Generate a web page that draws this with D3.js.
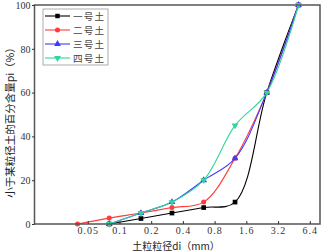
<!DOCTYPE html>
<html><head><meta charset="utf-8">
<script src="https://cdn.jsdelivr.net/npm/d3@7"></script>
<style>body{margin:0;background:#fff}svg{display:block}</style>
</head><body><svg id="c" width="327" height="252"></svg>
<script>
const seriesNames = ["一号土","二号土","三号土","四号土"];
const colors = ["#000000","#ff3b3b","#3b3bff","#2ed69a"];
const symbols = [d3.symbolSquare, d3.symbolCircle, d3.symbolTriangle, d3.symbolTriangle];
const xBlack = [0.08,0.16,0.315,0.63,1.25,2.5,5];
const yBlack = [0,2.5,5,7.5,10,60,100];
const xRed = [0.04,0.08,0.16,0.315,0.63,1.25,2.5,5];
const yRed = [0,2.7,5,7.5,10,30,60,100];
const xBlue = [0.08,0.16,0.315,0.63,1.25,2.5,5];
const yBlue = [0,5,10,20,30,60,100];
const xGreen = [0.08,0.16,0.315,0.63,1.25,2.5,5];
const yGreen = [0,5,10,20,45,60,100];
const xTicks = [0.05,0.1,0.2,0.4,0.8,1.6,3.2,6.4];
const xTickLabels = ["0.05","0.1","0.2","0.4","0.8","1.6","3.2","6.4"];
const yTicks = [0,20,40,60,80,100];
const xTitle = "土粒粒径di（mm）";
const yTitle = "小于某粒径土的百分含量pi（%）";

const xs = [xBlack,xRed,xBlue,xGreen], ys=[yBlack,yRed,yBlue,yGreen];
const svg = d3.select("#c");
const L=34.5,R=320,T=5,B=224;
const x = d3.scaleLog().base(2).domain([Math.pow(2,-6),8]).range([L,R]);
const y = d3.scaleLinear().domain([0,100]).range([B,T]);
const num = "'Liberation Serif','DejaVu Serif',serif";
const cjk = "'Noto Sans CJK SC','Noto Sans CJK JP',sans-serif";

const lineGen = d3.line().x(d=>x(d[0])).y(d=>y(d[1])).curve(d3.curveCatmullRom.alpha(0.5));
xs.forEach((xa,i)=>{
  const pts = xa.map((v,j)=>[v,ys[i][j]]);
  svg.append("path").attr("d",lineGen(pts)).attr("fill","none").attr("stroke",colors[i]).attr("stroke-width",1.1);
});
xs.forEach((xa,i)=>{
  const pts = xa.map((v,j)=>[v,ys[i][j]]);
  svg.selectAll(null).data(pts).enter().append("path")
    .attr("d",d3.symbol().type(symbols[i]).size(i==0?22:20))
    .attr("transform",d=>`translate(${x(d[0])},${y(d[1])})${i==3?" rotate(180)":""}`)
    .attr("fill",colors[i]);
});

// frame
svg.append("rect").attr("x",L).attr("y",T).attr("width",R-L).attr("height",B-T)
  .attr("fill","none").attr("stroke","#555").attr("stroke-width",1.5);

// x axis
const xa = svg.append("g").attr("transform",`translate(0,${B})`)
  .call(d3.axisBottom(x).tickValues(xTicks).tickFormat((d,i)=>xTickLabels[i]).tickSizeInner(-3).tickSizeOuter(0).tickPadding(3));
xa.select(".domain").remove();
xa.selectAll("line").attr("stroke","#333");
xa.selectAll("text").attr("font-family",num).attr("font-size",10).attr("fill","#333").attr("letter-spacing","1px");

const ya = svg.append("g").attr("transform",`translate(${L},0)`)
  .call(d3.axisLeft(y).tickValues(yTicks).tickSizeInner(2.5).tickSizeOuter(0).tickPadding(1.5));
ya.select(".domain").remove();
ya.selectAll("line").attr("stroke","#333");
ya.selectAll("text").attr("font-family",num).attr("font-size",10).attr("fill","#333");

svg.append("text").attr("x",176).attr("y",249.5).attr("text-anchor","middle")
  .attr("font-family",cjk).attr("font-size",10).attr("fill","#222").text(xTitle);
svg.append("text").attr("transform","translate(13.5,120) rotate(-90)").attr("text-anchor","middle")
  .attr("font-family",cjk).attr("font-size",10.5).attr("fill","#222").text(yTitle);

// legend
const lg = svg.append("g");
lg.append("rect").attr("x",43).attr("y",9).attr("width",65).attr("height",56)
  .attr("fill","#fff").attr("stroke","#999").attr("stroke-width",0.8);
seriesNames.forEach((n,i)=>{
  const yy = 16+i*14;
  lg.append("line").attr("x1",45).attr("x2",70).attr("y1",yy).attr("y2",yy).attr("stroke",colors[i]).attr("stroke-width",1.1);
  lg.append("path").attr("d",d3.symbol().type(symbols[i]).size(20))
    .attr("transform",`translate(57.5,${yy})${i==3?" rotate(180)":""}`).attr("fill",colors[i]);
  lg.append("text").attr("x",73).attr("y",yy+3.6).attr("font-family",cjk).attr("font-size",9.6)
    .attr("letter-spacing","1.2px").attr("fill","#444").text(n);
});
</script></body></html>
